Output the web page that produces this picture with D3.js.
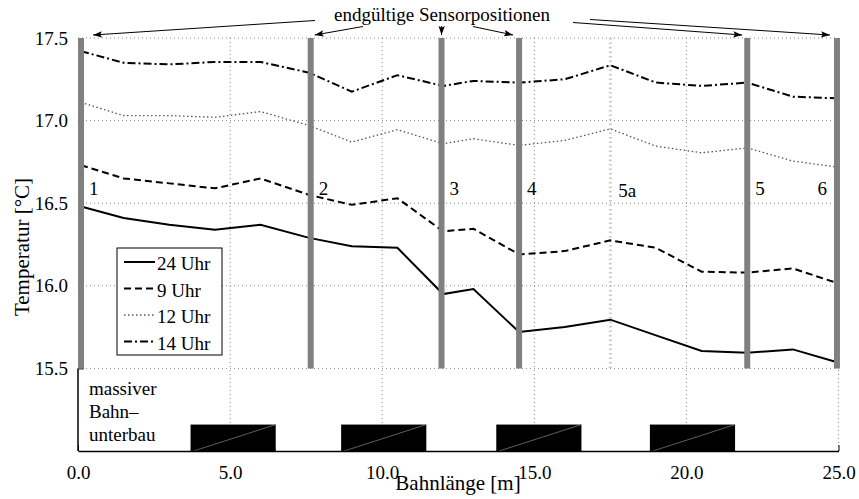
<!DOCTYPE html>
<html><head><meta charset="utf-8">
<script src="https://cdn.jsdelivr.net/npm/d3@7"></script>
<style>
body{margin:0;background:#fff;}
</style></head>
<body>
<svg id="c" width="859" height="499"></svg>
<script>
// ---- data ----
const positions = [0.1, 1.5, 3.0, 4.5, 6.0, 7.6, 9.0, 10.5, 12.0, 13.0, 14.5, 16.0, 17.5, 19.0, 20.5, 22.0, 23.5, 24.9];
const t24 = [16.48, 16.41, 16.37, 16.34, 16.37, 16.29, 16.24, 16.23, 15.95, 15.98, 15.72, 15.75, 15.795, 15.70, 15.605, 15.595, 15.615, 15.54];
const t9  = [16.73, 16.65, 16.62, 16.59, 16.65, 16.55, 16.49, 16.53, 16.33, 16.345, 16.19, 16.21, 16.275, 16.23, 16.085, 16.08, 16.105, 16.02];
const t12 = [17.11, 17.03, 17.03, 17.02, 17.055, 16.97, 16.87, 16.945, 16.86, 16.89, 16.85, 16.88, 16.95, 16.845, 16.805, 16.835, 16.755, 16.72];
const t14 = [17.42, 17.35, 17.34, 17.355, 17.355, 17.29, 17.175, 17.275, 17.21, 17.24, 17.23, 17.25, 17.335, 17.23, 17.21, 17.23, 17.145, 17.135];
const seriesNames = ["24 Uhr", "9 Uhr", "12 Uhr", "14 Uhr"];
const sensorPos = [0.1, 7.65, 11.95, 14.5, 22.0, 24.95];
const sensorLabels = ["1", "2", "3", "4", "5", "6"];
const extraPos = 17.5;
const extraLabel = "5a";
const slabStart = [3.7, 8.65, 13.75, 18.8];
const slabEnd = [6.5, 11.45, 16.55, 21.6];
const slabTop = 15.16;
const xTicks = [0, 5, 10, 15, 20, 25];
const yTicks = [15.5, 16.0, 16.5, 17.0, 17.5];
const baseLines = ["massiver", "Bahn\u2013", "unterbau"];
const titleText = "endgültige Sensorpositionen";
const xLabel = "Bahnlänge [m]";
const yLabel = "Temperatur [°C]";

const FONT = "'Liberation Serif', Tinos, 'Times New Roman', Times, 'DejaVu Serif', serif";

// ---- layout ----
const L = 78, R = 838.5, T = 38, B = 451;
const svg = d3.select("#c");
const x = d3.scaleLinear().domain([0, 25]).range([L, R]);
const y = d3.scaleLinear().domain([15.0, 17.5]).range([B, T]);

// grid
const g = svg.append("g");
g.selectAll(".hg").data(yTicks).enter().append("line")
  .attr("x1", L).attr("x2", R).attr("y1", d => y(d)).attr("y2", d => y(d))
  .attr("stroke", "#888").attr("stroke-width", 1).attr("stroke-dasharray", "1,3");
g.selectAll(".vg").data(xTicks.filter(d => d > 0)).enter().append("line")
  .attr("x1", d => x(d)).attr("x2", d => x(d)).attr("y1", T).attr("y2", B)
  .attr("stroke", "#888").attr("stroke-width", 1).attr("stroke-dasharray", "1,3");

// 5a line
svg.append("line").attr("x1", x(extraPos)).attr("x2", x(extraPos))
  .attr("y1", y(17.5)).attr("y2", y(15.5))
  .attr("stroke", "#c8c8c8").attr("stroke-width", 3).attr("stroke-dasharray", "1.5,3");

// slabs
const slabs = slabStart.map((s, i) => [s, slabEnd[i]]);
const sg = svg.append("g");
sg.selectAll("rect").data(slabs).enter().append("rect")
  .attr("x", d => x(d[0])).attr("y", y(slabTop))
  .attr("width", d => x(d[1]) - x(d[0])).attr("height", y(15.0) - y(slabTop))
  .attr("fill", "#000");
sg.selectAll("line").data(slabs).enter().append("line")
  .attr("x1", d => x(d[0]) + 3).attr("y1", y(15.0))
  .attr("x2", d => x(d[1])).attr("y2", y(slabTop))
  .attr("stroke", "#888").attr("stroke-width", 0.7);

// axes
const xAxis = d3.axisBottom(x).tickValues(xTicks).tickFormat(d3.format(".1f")).tickSizeInner(-6).tickSizeOuter(0).tickPadding(15);
const yAxis = d3.axisLeft(y).tickValues(yTicks).tickFormat(d3.format(".1f")).tickSizeInner(-6).tickSizeOuter(0).tickPadding(10);
const xa = svg.append("g").attr("transform", `translate(0,${B})`).call(xAxis);
const ya = svg.append("g").attr("transform", `translate(${L},0)`).call(yAxis);
[xa, ya].forEach(a => {
  a.attr("font-family", FONT).attr("font-size", 19);
  a.selectAll("path").attr("stroke", "#000").attr("stroke-width", 1.5);
  a.selectAll("line").attr("stroke", "#000");
  a.selectAll("text").attr("font-size", 19).style("font-family", FONT).attr("fill", "#000");
});
ya.select(".domain").attr("d", `M0,${y(15.5)}V${B}`);

// series lines
const styles = [
  {dash: null, w: 2, c: "#000"},
  {dash: "7,4", w: 2, c: "#000"},
  {dash: "1.5,2.5", w: 1.3, c: "#555"},
  {dash: "8,3,2,3", w: 2, c: "#000"}
];
const allSeries = [t24, t9, t12, t14];
const line = d3.line().x(d => x(d[0])).y(d => y(d[1]));
allSeries.forEach((s, i) => {
  svg.append("path").datum(positions.map((p, j) => [p, s[j]]))
    .attr("d", line).attr("fill", "none")
    .attr("stroke", styles[i].c).attr("stroke-width", styles[i].w)
    .attr("stroke-dasharray", styles[i].dash);
});

// sensor bars
svg.selectAll(".bar").data(sensorPos).enter().append("line")
  .attr("x1", d => x(d)).attr("x2", d => x(d)).attr("y1", y(17.5)).attr("y2", y(15.5))
  .attr("stroke", "#808080").attr("stroke-width", 6);

const txt = (sel) => sel.style("font-family", FONT).attr("fill", "#000");

// sensor labels
svg.selectAll(".sl").data(sensorPos).enter().append("text")
  .attr("x", (d, i) => i === 5 ? x(d) - 10 : x(d) + 8)
  .attr("y", 195).attr("font-size", 19)
  .attr("text-anchor", (d, i) => i === 5 ? "end" : "start")
  .text((d, i) => sensorLabels[i]).call(txt);
svg.append("text").attr("x", x(extraPos) + 8).attr("y", 197).attr("font-size", 19).text(extraLabel).call(txt);

// legend
const lg = svg.append("g");
lg.append("rect").attr("x", 117).attr("y", 248).attr("width", 105).attr("height", 107)
  .attr("fill", "#fff").attr("stroke", "#000").attr("stroke-width", 1);
seriesNames.forEach((n, i) => {
  const yy = 262 + i * 26.5;
  lg.append("line").attr("x1", 124).attr("x2", 155).attr("y1", yy).attr("y2", yy)
    .attr("stroke", styles[i].c).attr("stroke-width", styles[i].w).attr("stroke-dasharray", styles[i].dash);
  lg.append("text").attr("x", 157).attr("y", yy + 8).attr("font-size", 19).text(n).call(txt);
});

// base text
baseLines.forEach((t, i) => {
  svg.append("text").attr("x", 89).attr("y", 395 + i * 23).attr("font-size", 19).text(t).call(txt);
});

// title + arrows
svg.append("defs").append("marker").attr("id", "ah").attr("viewBox", "0 0 10 10")
  .attr("refX", 10).attr("refY", 5).attr("markerWidth", 9).attr("markerHeight", 9)
  .attr("markerUnits", "userSpaceOnUse").attr("orient", "auto")
  .append("path").attr("d", "M0,1.5L10,5L0,8.5L2,5Z").attr("fill", "#000");
svg.append("text").attr("x", 442).attr("y", 21).attr("text-anchor", "middle").attr("font-size", 19).text(titleText).call(txt);
const tails = [[315, 20.5], [363, 26.5], [441.7, 26], [473, 26.5], [573, 22.5], [590, 19.5]];
const tipDx = [12, 4, 0, -6, -5, -7];
sensorPos.forEach((p, i) => {
  svg.append("line").attr("x1", tails[i][0]).attr("y1", tails[i][1])
    .attr("x2", x(p) + tipDx[i]).attr("y2", y(17.5) - 3)
    .attr("stroke", "#000").attr("stroke-width", 1).attr("marker-end", "url(#ah)");
});

// axis labels
svg.append("text").attr("x", 458).attr("y", 490).attr("text-anchor", "middle").attr("font-size", 21).text(xLabel).call(txt);
svg.append("text").attr("transform", `translate(29,247) rotate(-90)`).attr("text-anchor", "middle").attr("font-size", 21).text(yLabel).call(txt);
</script>
</body></html>
